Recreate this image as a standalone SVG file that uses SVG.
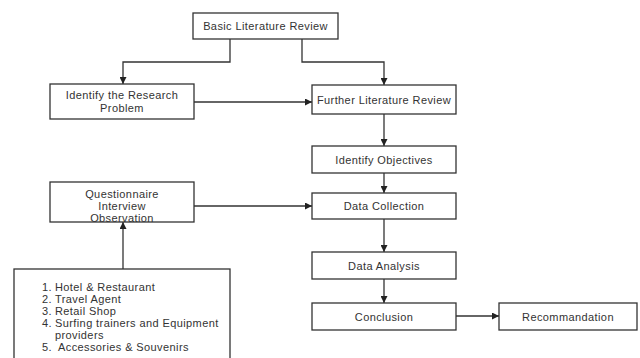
<svg xmlns="http://www.w3.org/2000/svg" width="640" height="358" viewBox="0 0 640 358">
<defs>
<marker id="ah" viewBox="0 0 10 10" refX="10" refY="5" markerWidth="7" markerHeight="7" markerUnits="userSpaceOnUse" orient="auto">
<path d="M0,0 L10,5 L0,10 z" fill="#222"/>
</marker>
</defs>
<style>
.box{fill:#fff;stroke:#333;stroke-width:1.3}
.t{font-family:"Liberation Sans",Arial,sans-serif;font-size:11px;letter-spacing:0.4px;fill:#333;text-anchor:middle;dominant-baseline:central}
.l{font-family:"Liberation Sans",Arial,sans-serif;font-size:11px;letter-spacing:0.4px;fill:#333}
.c{fill:none;stroke:#333;stroke-width:1.3;marker-end:url(#ah)}
</style>
<rect width="640" height="358" fill="#fff"/>
<g id="connectors">
<path class="c" d="M230,39 V62 H123 V84"/>
<path class="c" d="M302,39 V62 H384 V85"/>
<path class="c" d="M194,102 H312"/>
<path class="c" d="M384,114 V146"/>
<path class="c" d="M384,173 V193"/>
<path class="c" d="M194,206 H312"/>
<path class="c" d="M384,219 V252"/>
<path class="c" d="M384,279 V303"/>
<path class="c" d="M456,316 H499"/>
<path class="c" d="M123,269 V222"/>
</g>
<g id="basic">
<rect class="box" x="193" y="13" width="145" height="26"/>
<text class="t" x="265.5" y="26">Basic Literature Review</text>
</g>
<g id="research">
<rect class="box" x="50" y="84" width="144" height="35"/>
<text class="t" x="122" y="95">Identify the Research</text>
<text class="t" x="122" y="108">Problem</text>
</g>
<g id="further">
<rect class="box" x="312" y="85" width="144" height="29"/>
<text class="t" x="384" y="100">Further Literature Review</text>
</g>
<g id="objectives">
<rect class="box" x="312" y="146" width="144" height="27"/>
<text class="t" x="384" y="159.5">Identify Objectives</text>
</g>
<g id="collection">
<rect class="box" x="312" y="193" width="144" height="26"/>
<text class="t" x="384" y="206">Data Collection</text>
</g>
<g id="analysis">
<rect class="box" x="312" y="252" width="144" height="27"/>
<text class="t" x="384" y="265.5">Data Analysis</text>
</g>
<g id="conclusion">
<rect class="box" x="312" y="303" width="144" height="27"/>
<text class="t" x="384" y="316.5">Conclusion</text>
</g>
<g id="recommandation">
<rect class="box" x="499" y="303" width="138" height="27"/>
<text class="t" x="568" y="316.5">Recommandation</text>
</g>
<g id="methods">
<rect class="box" x="50" y="182" width="144" height="40"/>
<text class="t" x="122" y="194">Questionnaire</text>
<text class="t" x="122" y="206">Interview</text>
<text class="t" x="122" y="218">Observation</text>
</g>
<g id="sectors">
<rect class="box" x="14" y="269" width="216" height="100"/>
<text class="l" x="42" y="290.5">1.</text><text class="l" x="55" y="290.5">Hotel &amp; Restaurant</text>
<text class="l" x="42" y="302.5">2.</text><text class="l" x="55" y="302.5">Travel Agent</text>
<text class="l" x="42" y="314.5">3.</text><text class="l" x="55" y="314.5">Retail Shop</text>
<text class="l" x="42" y="326.5">4.</text><text class="l" x="55" y="326.5">Surfing trainers and Equipment</text>
<text class="l" x="55" y="338.5">providers</text>
<text class="l" x="42" y="350.5">5.</text><text class="l" x="58" y="350.5">Accessories &amp; Souvenirs</text>
</g>
</svg>
